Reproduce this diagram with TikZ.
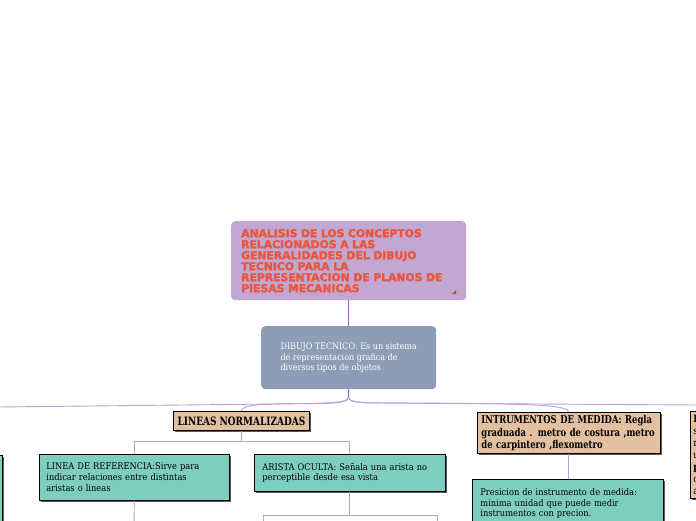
\documentclass[tikz,border=0pt]{standalone}
\usepackage{fontspec}
\setmainfont{DejaVu Serif}[FakeStretch=0.9]
\newfontfamily\titlefont{DejaVu Sans}[BoldFeatures={FakeBold=3}]
\newfontfamily\headfont{DejaVu Serif}[FakeStretch=0.78]
\usetikzlibrary{shadows}
\definecolor{mapviolet}{HTML}{C1A7D1}
\definecolor{titlered}{HTML}{E9573F}
\definecolor{slateblue}{HTML}{8C9DB5}
\definecolor{sandtan}{HTML}{E3C0A0}
\definecolor{mintteal}{HTML}{7ECEC0}
\definecolor{branchline}{HTML}{B9A0D6}
\definecolor{stemline}{HTML}{9466BE}

\begin{document}
\begin{tikzpicture}[x=1pt, y=-1pt,
  titlebox/.style={fill=mapviolet, rounded corners=4pt, text=titlered, align=left,
    text width=215pt, inner xsep=10pt, minimum height=79pt,
    font=\titlefont\bfseries\fontsize{10.8}{11}\selectfont},
  defbox/.style={fill=slateblue, rounded corners=4pt, text=white, align=left,
    minimum width=175pt, minimum height=63pt,
    font=\fontsize{8.9}{10.5}\selectfont},
  tanbox/.style={fill=sandtan, draw=black, line width=0.8pt,
    drop shadow={shadow xshift=1.6pt, shadow yshift=-1.6pt, fill=black!65, opacity=1},
    font=\headfont\bfseries\fontsize{11.5}{12.5}\selectfont},
  tealbox/.style={fill=mintteal, draw=black, line width=0.8pt, align=left,
    drop shadow={shadow xshift=1.6pt, shadow yshift=-1.6pt, fill=black!65, opacity=1},
    inner xsep=7pt, inner ysep=6pt, font=\fontsize{9.2}{10.8}\selectfont},
  stem/.style={draw=stemline, line width=1.2pt},
  branch/.style={draw=branchline, line width=0.9pt}]
\useasboundingbox (0,0) rectangle (696,520);
\clip (0,0) rectangle (696,520);

% central topic and definition
\node[titlebox, anchor=north west] (title) at (231,221)
  {ANALISIS DE LOS CONCEPTOS\\RELACIONADOS A LAS\\GENERALIDADES DEL DIBUJO\\TECNICO PARA LA\\REPRESENTACION DE PLANOS DE\\PIESAS MECANICAS};
\fill[titlered!80!black] (456,294) -- (456,290) -- (452,294) -- cycle;
\node[defbox, anchor=north west] (defi) at (261,326)
  {DIBUJO TECNICO: Es un sistema\\de representacion grafica de\\diversos tipos de objetos};

% main branches
\node[tanbox, anchor=north west, minimum width=136pt, minimum height=19pt, inner sep=2pt] (lineas) at (173,411)
  {LINEAS NORMALIZADAS};
\node[tanbox, anchor=north west, align=left, text width=175pt, inner xsep=4pt, inner ysep=3pt,
  font=\headfont\bfseries\fontsize{10.8}{12.5}\selectfont] (instr) at (477,412)
  {INTRUMENTOS DE MEDIDA: Regla\\graduada . metro de costura ,metro\\de carpintero ,flexometro};
\node[tanbox, anchor=north west, align=left, text width=40pt, inner xsep=3pt, inner ysep=4pt,
  font=\fontsize{10}{12}\selectfont] (rightbox) at (690,411)
  {\textbf{I}\\s\\r\\u\\\textbf{p}\\c\\a};
\node[tealbox, anchor=north east, minimum width=40pt, minimum height=80pt] (leftbox) at (3,455) {};

% sub topics
\node[tealbox, anchor=north west, text width=176pt, minimum height=46pt] (linref) at (39,454)
  {LINEA DE REFERENCIA:Sirve para\\indicar relaciones entre distintas\\aristas o lineas};
\node[tealbox, anchor=north west, text width=175pt, inner xsep=8pt, minimum height=37pt] (arista) at (254,454)
  {ARISTA OCULTA: Señala una arista no\\perceptible desde esa vista};
\node[tealbox, anchor=north west, text width=175pt, inner xsep=8pt, inner ysep=9pt] (presic) at (472,479)
  {Presicion de instrumento de medida:\\minima unidad que puede medir\\instrumentos con precion.};

% connectors
\coordinate (hub) at (348.5,397);
\coordinate (westend) at (-2,407);
\coordinate (eastend) at (698,405);
\coordinate (refdown) at (134,524);
\coordinate (hidleft) at (263,524);
\coordinate (hidright) at (437,524);
\draw[stem] (title.south) -- (defi.north);
\draw[stem] (defi.south) -- (hub);
\draw[branch] (hub) .. controls (348.5,402) and (340,403) .. (320,403.5) -- (westend);
\draw[branch] (hub) .. controls (348.5,402) and (357,403) .. (377,403) -- (eastend);
\draw[branch] (hub) .. controls (348.5,403) and (330,403) .. (300,403.5)
  .. controls (255,404) and (243,405) .. (lineas.north);
\draw[branch] (hub) .. controls (348.5,403) and (365,403) .. (400,403)
  .. controls (540,403.5) and (566,405) .. (instr.north);
\draw[branch] (lineas.south) -- ++(0,11) -| (linref.north);
\draw[branch] (lineas.south) -- ++(0,11) -| (arista.north);
\draw[branch] (instr.south) -- (instr.south |- presic.north);
\draw[branch] (linref.south) -- (refdown);
\draw[branch] (arista.south) -- ++(0,24) -| (hidleft);
\draw[branch] (arista.south) -- ++(0,24) -| (hidright);
\end{tikzpicture}
\end{document}
